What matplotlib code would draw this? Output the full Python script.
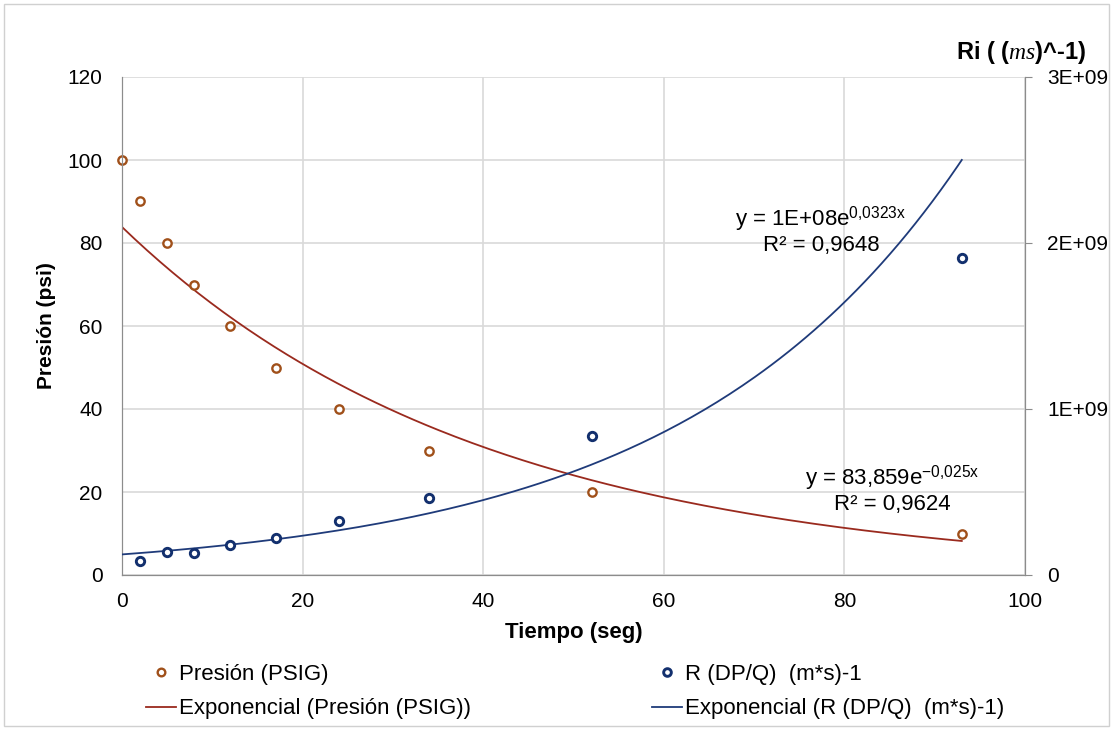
import numpy as np
import matplotlib
matplotlib.use('Agg')
from matplotlib import pyplot as plt
from matplotlib.lines import Line2D
from matplotlib.patches import Rectangle

plt.rcParams['font.family'] = ['Liberation Sans', 'DejaVu Sans']
plt.rcParams['mathtext.fontset'] = 'custom'
plt.rcParams['mathtext.rm'] = 'Liberation Sans'
plt.rcParams['mathtext.it'] = 'Liberation Serif:italic'

# data
tiempo = [0, 2, 5, 8, 12, 17, 24, 34, 52, 93]
presion = [100, 90, 80, 70, 60, 50, 40, 30, 20, 10]
tiempo_r = [2, 5, 8, 12, 17, 24, 34, 52, 93]
r_vals = [0.085e9, 0.139e9, 0.133e9, 0.180e9, 0.222e9, 0.326e9, 0.465e9, 0.840e9, 1.910e9]

# trendline coefficients (as shown, blue one refined from the drawn curve)
a_p, b_p = 83.859, -0.025
a_r, b_r = 1.24e8, 0.0323

c_pts_p = '#A0501A'
c_line_p = '#9A2A1E'
c_pts_r = '#13306E'
c_line_r = '#1F3B7A'
grid_c = '#D9D9D9'
spine_c = '#8C8C8C'

fig = plt.figure(figsize=(11.16, 7.29), dpi=100)
fig.patches.append(Rectangle((0.004, 0.004), 0.99, 0.99, transform=fig.transFigure,
                             fill=False, edgecolor='#D0D0D0', linewidth=1))
ax = fig.add_axes([122 / 1116, 1 - 575 / 729, (1025 - 122) / 1116, (575 - 77) / 729])
ax2 = ax.twinx()

xs = np.linspace(0, 93, 200)
ax.plot(xs, a_p * np.exp(b_p * xs), color=c_line_p, linewidth=1.3, zorder=3)
ax.plot(tiempo, presion, linestyle='none', marker='o', markersize=6,
        markerfacecolor='white', markeredgecolor=c_pts_p, markeredgewidth=1.7, zorder=4,
        clip_on=False)
ax2.plot(xs, a_r * np.exp(b_r * xs), color=c_line_r, linewidth=1.3, zorder=3)
ax2.plot(tiempo_r, r_vals, linestyle='none', marker='o', markersize=6,
         markerfacecolor='white', markeredgecolor=c_pts_r, markeredgewidth=2.1, zorder=4)

ax.set_xlim(0, 100)
ax.set_ylim(0, 120)
ax.set_xticks(range(0, 101, 20))
ax.set_yticks(range(0, 121, 20))
ax2.set_ylim(0, 3e9)
ax2.set_yticks([0, 1e9, 2e9, 3e9])
ax2.set_yticklabels(['0', '1E+09', '2E+09', '3E+09'])

ax.grid(True, color=grid_c, linewidth=1.2)
ax.set_axisbelow(True)
ax.spines['top'].set_visible(False)
ax2.spines['top'].set_visible(False)
for s in ['left', 'bottom', 'right']:
    ax.spines[s].set_color(spine_c)
    ax2.spines[s].set_color(spine_c)
ax.tick_params(axis='y', length=0, labelsize=15, pad=14)
ax.tick_params(axis='x', length=0, labelsize=15, pad=12)
ax2.tick_params(axis='y', length=5, color=spine_c, labelsize=15, pad=11)

ax.set_xlabel('Tiempo (seg)', fontsize=16, fontweight='bold', labelpad=8)
ax.set_ylabel('Presión (psi)', fontsize=15, fontweight='bold', labelpad=8)
fig.text(1086 / 1116, 1 - 53 / 729, r'Ri ( ($ms$)^-1)', fontsize=17, fontweight='bold',
         ha='right', va='center')

ax.text(77.4, 85.8, r'y = 1E+08e$^{\mathrm{0{,}0323x}}$', fontsize=16, ha='center', va='center')
ax.text(77.4, 79.5, 'R² = 0,9648', fontsize=16, ha='center', va='center')
ax.text(85.3, 23.4, r'y = 83,859e$^{\mathrm{-0{,}025x}}$', fontsize=16, ha='center', va='center')
ax.text(85.3, 16.9, 'R² = 0,9624', fontsize=16, ha='center', va='center')

h_pp = Line2D([], [], linestyle='none', marker='o', markersize=5.5, markerfacecolor='white',
              markeredgecolor=c_pts_p, markeredgewidth=1.7)
h_lp = Line2D([], [], color=c_line_p, linewidth=1.3)
h_pr = Line2D([], [], linestyle='none', marker='o', markersize=5.5, markerfacecolor='white',
              markeredgecolor=c_pts_r, markeredgewidth=2.1)
h_lr = Line2D([], [], color=c_line_r, linewidth=1.3)

leg_kw = dict(frameon=False, fontsize=16, handlelength=1.35, handletextpad=0.15,
              labelspacing=0.6, loc='upper left', borderaxespad=0, borderpad=0)
fig.legend([h_pp, h_lp], ['Presión (PSIG)', 'Exponencial (Presión (PSIG))'],
           bbox_to_anchor=(146 / 1116, 1 - 664 / 729), **leg_kw)
fig.legend([h_pr, h_lr], ['R (DP/Q)  (m*s)-1', 'Exponencial (R (DP/Q)  (m*s)-1)'],
           bbox_to_anchor=(652 / 1116, 1 - 664 / 729), **leg_kw)

fig.savefig('out.png', dpi=100)
